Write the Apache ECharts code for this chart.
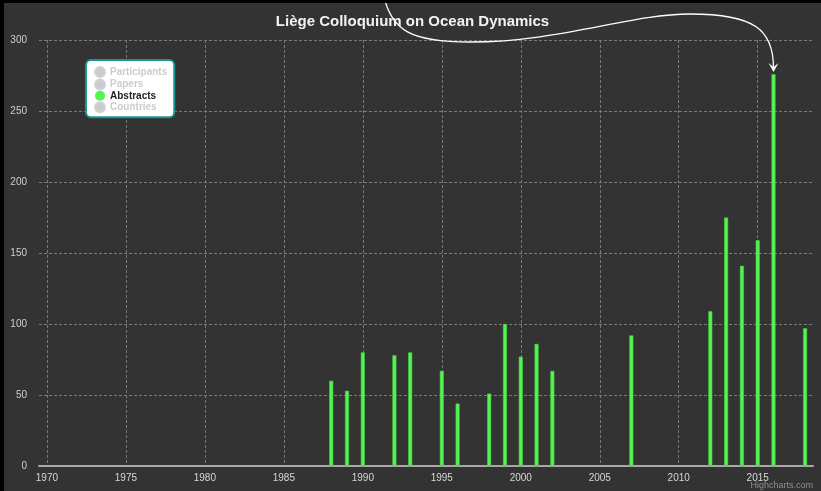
<!DOCTYPE html>
<html>
<head>
<meta charset="utf-8">
<script src="https://cdn.jsdelivr.net/npm/echarts@6/dist/echarts.min.js"></script>
<style>
    html, body { margin: 0; padding: 0; background: #000; }
    #chart { position: absolute; left: 4px; top: 3px; width: 817px; height: 488px; }
</style>
</head>
<body>
<div id="chart"></div>
<script>
    // data (only "Abstracts" is shown)
    var years = [1988, 1989, 1990, 1992, 1993, 1995, 1996, 1998, 1999, 2000, 2001, 2002, 2007, 2012, 2013, 2014, 2015, 2016, 2018]
    var abstracts = [60, 53, 80, 78, 80, 67, 44, 51, 100, 77, 86, 67, 92, 109, 175, 141, 159, 276, 97]
    var seriesNames = ['Participants', 'Papers', 'Abstracts', 'Countries']
    var yearTicks = [1970, 1975, 1980, 1985, 1990, 1995, 2000, 2005, 2010, 2015]

    var chart = echarts.init(document.getElementById('chart'))
    var font = '"Liberation Sans", Arial, sans-serif'

    var series = seriesNames.map(function (name) {
        return {
            name: name,
            type: 'bar',
            barWidth: 4,
            data: name === 'Abstracts' ? years.map(function (y, i) { return [y, abstracts[i]] }) : [],
            itemStyle: { color: '#52f552', borderColor: '#3fd23f', borderWidth: 0.6 }
        }
    })

    var option = {
        backgroundColor: '#333333',
        animation: false,
        textStyle: { fontFamily: font },
        title: {
            text: 'Liège Colloquium on Ocean Dynamics',
            left: 'center',
            top: 6,
            textStyle: { color: '#f2f2f2', fontSize: 15, fontWeight: 'bold', fontFamily: font }
        },
        legend: {
            orient: 'vertical',
            left: 82,
            top: 57,
            padding: [6, 7, 4, 8],
            itemGap: 0.4,
            itemWidth: 10,
            itemHeight: 10,
            icon: 'circle',
            itemStyle: { borderWidth: 0 },
            backgroundColor: '#ffffff',
            borderColor: '#1b9696',
            borderWidth: 2,
            borderRadius: 5,
            inactiveColor: '#cccccc',
            selectedMode: false,
            data: seriesNames,
            selected: { Participants: false, Papers: false, Abstracts: true, Countries: false },
            textStyle: { color: '#222', fontSize: 10, lineHeight: 10, fontWeight: 'bold', fontFamily: font }
        },
        grid: { left: 35, right: 8, top: 37, bottom: 25, outerBoundsMode: 'none' },
        xAxis: {
            type: 'value',
            min: 1969.5,
            max: 2018.5,
            axisLine: { lineStyle: { color: '#a8a8a8', width: 2 } },
            axisTick: { show: false, customValues: yearTicks },
            axisLabel: {
                customValues: yearTicks,
                color: '#d8d8d8',
                fontSize: 10,
                margin: 7,
                formatter: function (v) { return String(v) }
            },
            splitLine: { show: true, lineStyle: { color: '#7a7a7a', type: [3, 2], width: 1 } }
        },
        yAxis: {
            type: 'value',
            min: 0,
            max: 300,
            interval: 50,
            axisLine: { show: false },
            axisTick: { show: false },
            axisLabel: { color: '#d0d0d0', fontSize: 10, margin: 12 },
            splitLine: { lineStyle: { color: '#7a7a7a', type: [3, 2], width: 1 } }
        },
        series: series
    }
    chart.setOption(option)

    // annotation arrow pointing at the 2016 bar
    var tip = chart.convertToPixel({ xAxisIndex: 0, yAxisIndex: 0 }, [2016, 276])
    var tx = tip[0], ty = tip[1] - 2
    var arrowStyle = { fill: null, stroke: '#ffffff', lineWidth: 1.3 }
    chart.setOption({
        graphic: [
            {
                type: 'bezierCurve', silent: true,
                shape: { x1: 380, y1: -6, cpx1: 388, cpy1: 27, cpx2: 406, cpy2: 39, x2: 466, y2: 39 },
                style: arrowStyle
            },
            {
                type: 'bezierCurve', silent: true,
                shape: { x1: 466, y1: 39, cpx1: 556, cpy1: 39, cpx2: 626, cpy2: 11, x2: 686, y2: 11 },
                style: arrowStyle
            },
            {
                type: 'bezierCurve', silent: true,
                shape: { x1: 686, y1: 11, cpx1: 751, cpy1: 11, cpx2: tx, cpy2: 27, x2: tx, y2: ty - 4 },
                style: arrowStyle
            },
            {
                type: 'polygon',
                silent: true,
                shape: { points: [[tx - 5, ty - 9], [tx, ty], [tx + 5, ty - 9], [tx, ty - 5]] },
                style: { fill: '#ffffff' }
            },
            {
                type: 'text',
                right: 8,
                bottom: 1,
                silent: true,
                style: { text: 'Highcharts.com', fill: '#909090', fontSize: 9, fontFamily: font }
            }
        ]
    })
</script>
</body>
</html>
